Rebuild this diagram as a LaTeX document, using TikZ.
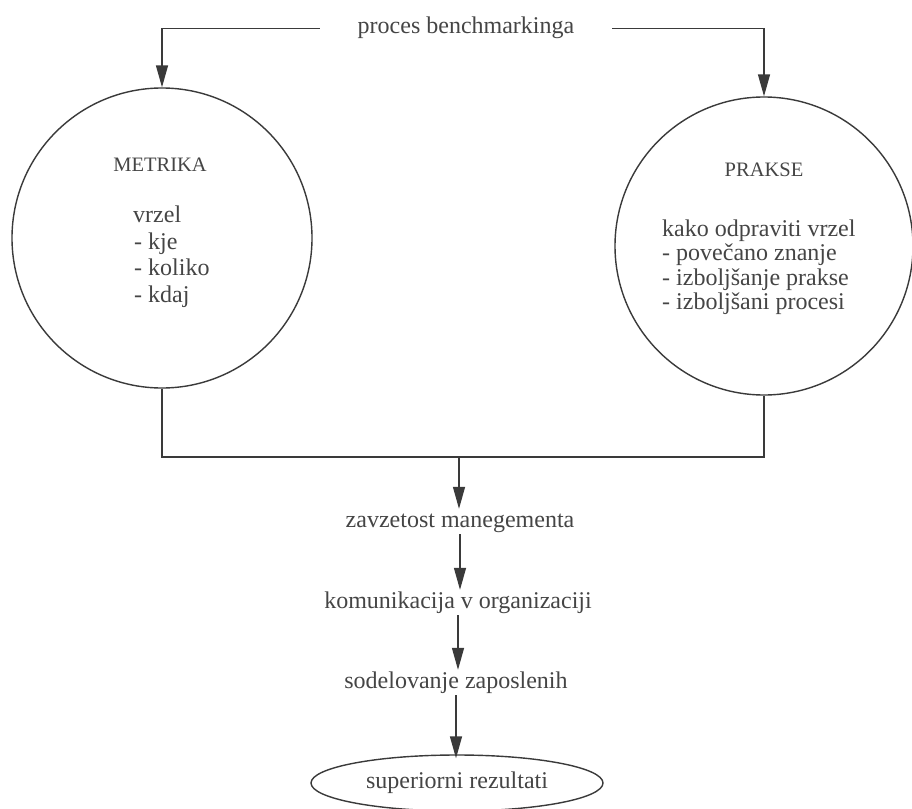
\documentclass[tikz,border=0pt]{standalone}
\usepackage{fontspec}
\setmainfont{Liberation Serif}
\usetikzlibrary{arrows.meta,shapes.geometric}
\definecolor{ink}{HTML}{3A3A3A}
\definecolor{txt}{HTML}{454545}
\begin{document}
\begin{tikzpicture}[x=1pt,y=-1pt,
  line/.style={draw=ink,line width=1.4pt},
  arr/.style={line,-{Triangle[length=22pt,width=12pt]}},
  lbl/.style={text=txt,font=\fontsize{24}{28}\selectfont,inner sep=0pt,text height=17pt,text depth=6pt},
  head/.style={text=txt,font=\fontsize{20.5}{24}\selectfont,inner sep=0pt},
  item/.style={text=txt,font=\fontsize{24}{28}\selectfont,inner sep=0pt,anchor=base west},
  bigcircle/.style={circle,line,inner sep=0pt}
]
\useasboundingbox (0,0) rectangle (912,808);
\fill[white] (0,0) rectangle (912,808);

% title
\node[lbl,inner xsep=38pt,anchor=base] (title) at (466,34) {proces benchmarkinga};

% circles
\node[bigcircle,minimum size=300pt] (L) at (162,238) {};
\node[bigcircle,minimum size=298pt] (R) at (764,246) {};

% left circle text
\node[head,anchor=base] (mh) at (160,171) {METRIKA};
\node[item] (m1) at (133,222) {vrzel};
\node[item] (m2) at (134,249) {- kje};
\node[item] (m3) at (134,275.5) {- koliko};
\node[item] (m4) at (134,302) {- kdaj};

% right circle text
\node[head,anchor=base] (ph) at (764,176) {PRAKSE};
\node[item] (p1) at (662,236) {kako odpraviti vrzel};
\node[item] (p2) at (662,260.5) {- povečano znanje};
\node[item] (p3) at (662,285) {- izboljšanje prakse};
\node[item] (p4) at (662,309.5) {- izboljšani procesi};

% chain
\node[lbl,anchor=base,inner ysep=1pt] (z) at (460,527) {zavzetost manegementa};
\node[lbl,anchor=base,inner ysep=1pt] (k) at (458,608) {komunikacija v organizaciji};
\node[lbl,anchor=base,inner ysep=1pt] (s) at (456,688) {sodelovanje zaposlenih};
\node[ellipse,line,text=txt,font=\fontsize{24}{28}\selectfont,inner sep=0pt,
      minimum width=292pt,minimum height=56pt] (res) at (457,783) {superiorni rezultati};

% connectors
\draw[arr] (title.west) -| (L.north);
\draw[arr] (title.east) -| (R.north);
\coordinate (J) at (459,457);
\draw[line] (L.south) |- (J) -| (R.south);
\draw[arr] (J) -- (J |- z.north);
\draw[arr] (z.south) -- (z.south |- k.north);
\draw[arr] (k.south) -- (k.south |- s.north);
\draw[arr] (s.south) -- ([yshift=-4pt]s.south |- res.north);
\end{tikzpicture}
\end{document}
